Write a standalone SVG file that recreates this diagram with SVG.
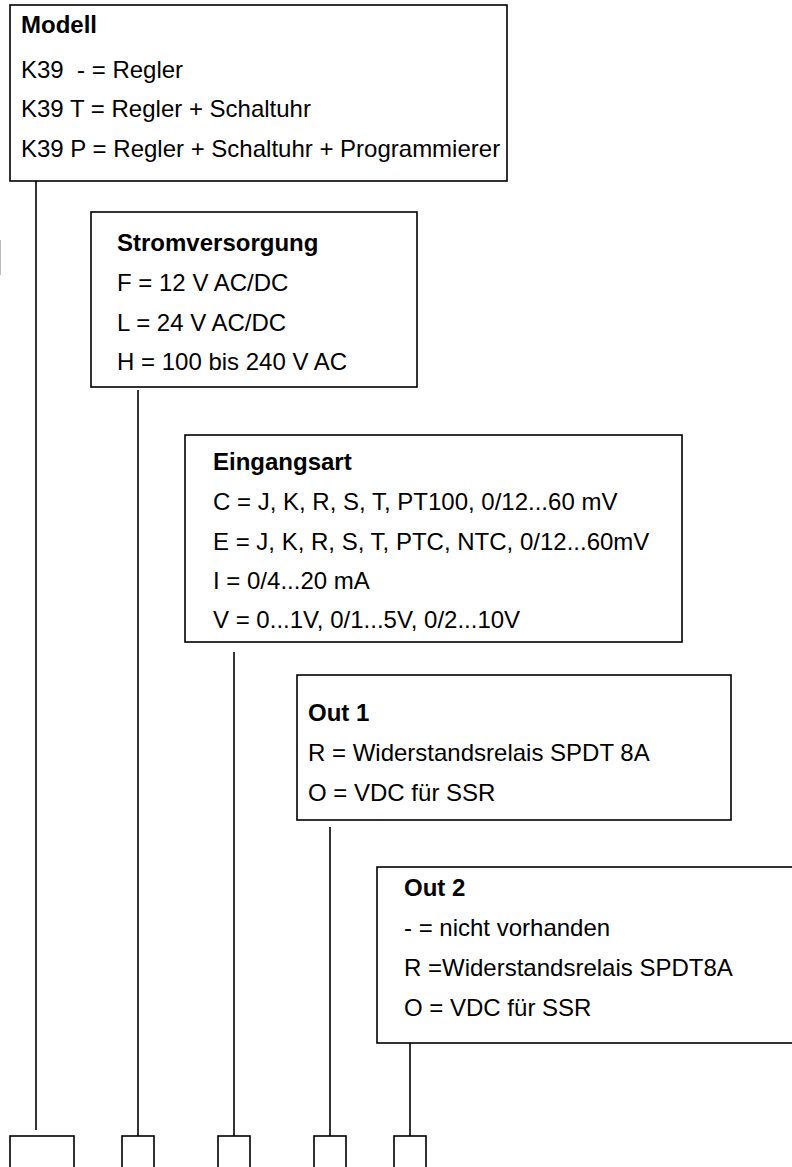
<svg xmlns="http://www.w3.org/2000/svg" width="792" height="1167" viewBox="0 0 792 1167">
<style>
.box{fill:#fff;stroke:#000;stroke-width:1.6}
.t{font-family:"Liberation Sans",Arial,sans-serif;font-size:24px;fill:#000}
.b{font-weight:bold}
.c{stroke:#000;stroke-width:1.6;fill:none}
.code{fill:#fff;stroke:#000;stroke-width:1.6}
</style>
<rect width="792" height="1167" fill="#fff"/>
<line x1="0.5" y1="240" x2="0.5" y2="275" stroke="#bbb" stroke-width="1"/>
<g id="connectors">
<line class="c" x1="36" y1="181" x2="36" y2="1130"/>
<line class="c" x1="138" y1="390" x2="138" y2="1136"/>
<line class="c" x1="234" y1="652" x2="234" y2="1136"/>
<line class="c" x1="330" y1="827" x2="330" y2="1136"/>
<line class="c" x1="410" y1="1038" x2="410" y2="1136"/>
</g>
<g id="modell">
<rect class="box" x="10" y="5" width="497" height="176"/>
<text class="t b" x="21" y="33">Modell</text>
<text class="t" x="21" y="78" xml:space="preserve">K39  - = Regler</text>
<text class="t" x="21" y="117">K39 T = Regler + Schaltuhr</text>
<text class="t" x="21" y="157">K39 P = Regler + Schaltuhr + Programmierer</text>
</g>
<g id="stromversorgung">
<rect class="box" x="91" y="212" width="326" height="175"/>
<text class="t b" x="117" y="251">Stromversorgung</text>
<text class="t" x="117" y="291">F = 12 V AC/DC</text>
<text class="t" x="117" y="331">L = 24 V AC/DC</text>
<text class="t" x="117" y="370">H = 100 bis 240 V AC</text>
</g>
<g id="eingangsart">
<rect class="box" x="185" y="435" width="497" height="207"/>
<text class="t b" x="213" y="470">Eingangsart</text>
<text class="t" x="213" y="510">C = J, K, R, S, T, PT100, 0/12...60 mV</text>
<text class="t" x="213" y="550">E = J, K, R, S, T, PTC, NTC, 0/12...60mV</text>
<text class="t" x="213" y="589">I = 0/4...20 mA</text>
<text class="t" x="213" y="628">V = 0...1V, 0/1...5V, 0/2...10V</text>
</g>
<g id="out1">
<rect class="box" x="297" y="675" width="434" height="145"/>
<text class="t b" x="308" y="721">Out 1</text>
<text class="t" x="308" y="761">R = Widerstandsrelais SPDT 8A</text>
<text class="t" x="308" y="801">O = VDC für SSR</text>
</g>
<g id="out2">
<rect class="box" x="377" y="867" width="430" height="176"/>
<text class="t b" x="404" y="896">Out 2</text>
<text class="t" x="404" y="936">- = nicht vorhanden</text>
<text class="t" x="404" y="976">R =Widerstandsrelais SPDT8A</text>
<text class="t" x="404" y="1016">O = VDC für SSR</text>
</g>
<g id="code-fields">
<rect class="code" x="10" y="1136" width="64" height="40"/>
<rect class="code" x="122" y="1136" width="32" height="40"/>
<rect class="code" x="218" y="1136" width="32" height="40"/>
<rect class="code" x="314" y="1136" width="32" height="40"/>
<rect class="code" x="394" y="1136" width="32" height="40"/>
</g>
</svg>
